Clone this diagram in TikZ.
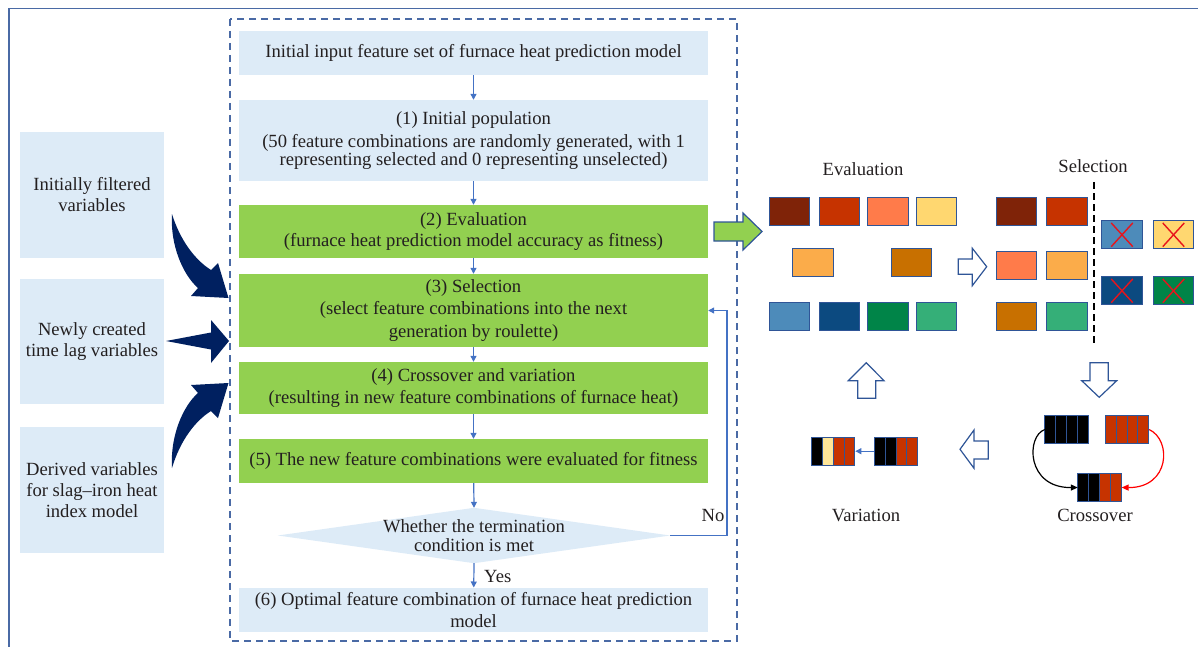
\documentclass[tikz,border=0pt]{standalone}
\usepackage{fontspec}
\setmainfont{Liberation Serif}
\usetikzlibrary{arrows.meta,calc}

\definecolor{lightbox}{HTML}{DDEBF7}
\definecolor{greenbox}{HTML}{92D050}
\definecolor{linkblue}{HTML}{4472C4}
\definecolor{frameblue}{HTML}{4A6AA5}
\definecolor{navy}{HTML}{002060}
\definecolor{ink}{HTML}{231F20}
\definecolor{edgeblue}{HTML}{2F5597}
\definecolor{gMaroon}{HTML}{7F2308}
\definecolor{gRust}{HTML}{C63300}
\definecolor{gCoral}{HTML}{FF7B4A}
\definecolor{gSand}{HTML}{FFD770}
\definecolor{gApricot}{HTML}{FBAC4A}
\definecolor{gOchre}{HTML}{C87000}
\definecolor{gSteel}{HTML}{4D8BBA}
\definecolor{gDeep}{HTML}{0C4A80}
\definecolor{gGreen}{HTML}{008448}
\definecolor{gMint}{HTML}{35AF78}
\definecolor{gPale}{HTML}{FFE699}
\definecolor{crossred}{HTML}{E8141C}

\newcommand\fs[1]{\fontsize{18.6}{#1}\selectfont}

\tikzset{
  flowbox/.style={rectangle, inner sep=0pt, minimum width=469pt, align=center, text=ink},
  bluebox/.style={flowbox, fill=lightbox},
  greenstep/.style={flowbox, fill=greenbox},
  sidebox/.style={rectangle, inner sep=0pt, fill=lightbox, minimum width=144pt,
    align=center, text=ink},
  conn/.style={draw=linkblue, line width=1.2pt, -{Triangle[width=6pt,length=6pt]}},
  tile/.style={rectangle, draw=edgeblue, line width=1pt, inner sep=0pt,
    minimum width=40.5pt, minimum height=27.7pt},
  strip/.style={rectangle, inner sep=0pt, minimum width=43.4pt, minimum height=28pt},
  cellline/.style={draw=edgeblue, line width=1pt},
  hollow/.style={draw=edgeblue, line width=1.2pt, fill=white, line join=miter},
  label/.style={text=ink, inner sep=0pt},
  crossmark/.style={draw=crossred, line width=1.4pt},
}

% a chromosome strip of four genes
\newcommand\genestrip[6]{%
  \node[strip] (#1) at (#2) {};
  \foreach \k/\c in {0/#3,1/#4,2/#5,3/#6}{%
    \draw[cellline, fill=\c] ($(#1.north west)+(\k*10.85,0)$) rectangle ++(10.85,28);
  }%
}

\begin{document}
\begin{tikzpicture}[x=1pt,y=-1pt, font=\fs{21}]
\useasboundingbox (0,0) rectangle (1198,647);

% outer frame
\draw[frameblue, line width=1.5pt] (1198,8.5) -- (9,8.5) -- (9,647);

% dashed frame round the flow chart
\draw[frameblue, line width=1.2pt, dash pattern=on 7pt off 5pt] (230,19) rectangle (737,641);

% flow chart
\node[bluebox, minimum height=44pt, font=\fs{22}] (b0) at (473.5,53)
  {Initial input feature set of furnace heat prediction model};
\node[bluebox, minimum height=81pt, font=\fs{17.7}] (b1) at (473.5,140.5)
  {(1) Initial population\\[5.5pt]
   (50 feature combinations are randomly generated, with 1\\
   representing selected and 0 representing unselected)};
\node[greenstep, minimum height=53pt, font=\fs{20.7}] (b2) at (473.5,231.5)
  {(2) Evaluation\\(furnace heat prediction model accuracy as fitness)};
\node[greenstep, minimum height=73pt, font=\fs{22.7}] (b3) at (473.5,310.5)
  {(3) Selection\\(select feature combinations into the next\\generation by roulette)};
\node[greenstep, minimum height=52pt, font=\fs{21.3}] (b4) at (473.5,388)
  {(4) Crossover and variation\\(resulting in new feature combinations of furnace heat)};
\node[greenstep, minimum height=44pt, font=\fs{22}] (b5) at (473.5,461)
  {(5) The new feature combinations were evaluated for fitness};

% decision diamond
\node[rectangle, inner sep=0pt, minimum width=392pt, minimum height=55pt] (dia) at (474,535.5) {};
\fill[lightbox] (dia.north) -- (dia.east) -- (dia.south) -- (dia.west) -- cycle;
\node[rectangle, inner sep=0pt, align=center, text=ink, font=\fs{18.3}] (diatext) at (dia.center)
  {Whether the termination\\condition is met};

\node[bluebox, minimum height=44pt, font=\fs{22.3}] (b6) at (473.5,609.7)
  {(6) Optimal feature combination of furnace heat prediction\\model};

\draw[conn] (b0) -- (b1);
\draw[conn] (b1) -- (b2);
\draw[conn] (b2) -- (b3);
\draw[conn] (b3) -- (b4);
\draw[conn] (b4) -- (b5);
\draw[conn] (b5) -- (dia.north);
\draw[conn] (dia.south) -- (b6);
\node[label, anchor=west] (yes) at (484,576.5) {Yes};
\draw[conn] (dia.east) -- (727,535.5) |- (b3.east);
\node[label] (no) at (713,515) {No};

% input variable groups
\node[sidebox, minimum height=126pt] (v1) at (92,195) {Initially filtered\\variables};
\node[sidebox, minimum height=125pt] (v2) at (92,341.5) {Newly created\\time lag variables};
\node[sidebox, minimum height=126pt] (v3) at (92,490) {Derived variables\\for slag--iron heat\\index model};

% wide arrows feeding the flow chart
\fill[navy] (172,214) .. controls (180,240) and (195,260) .. (211,270) -- (218,263)
  -- (228.5,298) -- (191,296) -- (198,288) .. controls (183,275) and (170,245) .. cycle;
\fill[navy] (166,341) -- (211,332.5) -- (211,320) -- (229,341) -- (211,363)
  -- (211,349.5) -- cycle;
\fill[navy] (172,468) .. controls (180,441) and (195,421) .. (211,411) -- (218,418)
  -- (228.5,383) -- (191,385) -- (198,393) .. controls (183,406) and (170,436) .. cycle;

% genetic algorithm cycle
\draw[edgeblue, line width=1.2pt, fill=greenbox] (714,222) -- (743,222) -- (743,213)
  -- (762,231.5) -- (743,250) -- (743,241) -- (714,241) -- cycle;

\node[label] (evl) at (863,169) {Evaluation};
\node[label] (sel) at (1093,166) {Selection};

\node[tile, fill=gMaroon]  (e1)  at (789.3,211.2) {};
\node[tile, fill=gRust]    (e2)  at (839.3,211.2) {};
\node[tile, fill=gCoral]   (e3)  at (887.8,211.2) {};
\node[tile, fill=gSand]    (e4)  at (936.3,211.2) {};
\node[tile, fill=gApricot] (e5)  at (813.2,262.7) {};
\node[tile, fill=gOchre]   (e6)  at (911.5,262.7) {};
\node[tile, fill=gSteel]   (e7)  at (789.3,316.2) {};
\node[tile, fill=gDeep]    (e8)  at (839.3,316.2) {};
\node[tile, fill=gGreen]   (e9)  at (887.8,316.2) {};
\node[tile, fill=gMint]    (e10) at (936.3,316.2) {};

\draw[hollow] (958.3,259) -- (972.3,259) -- (972.3,248.3) -- (986.7,266.7)
  -- (972.3,285.7) -- (972.3,274.3) -- (958.3,274.3) -- cycle;

\node[tile, fill=gMaroon]  (s1) at (1016.3,211.2) {};
\node[tile, fill=gRust]    (s2) at (1067,211.2) {};
\node[tile, fill=gCoral]   (s3) at (1016.3,265.3) {};
\node[tile, fill=gApricot] (s4) at (1067,265.3) {};
\node[tile, fill=gOchre]   (s5) at (1016.3,316.2) {};
\node[tile, fill=gMint]    (s6) at (1067,316.2) {};

\draw[black, line width=1.2pt, dash pattern=on 7pt off 4pt] (1094,182) -- (1094,345);

\foreach \n/\x/\y/\c in {r1/1122/234.8/gSteel, r2/1173.5/234.8/gSand,
                         r3/1122/290.8/gDeep, r4/1173.5/290.8/gGreen}{
  \node[tile, fill=\c] (\n) at (\x,\y) {};
  \draw[crossmark] ($(\n.north west)+(10,2.5)$) -- ($(\n.south east)+(-10,-2.5)$);
  \draw[crossmark] ($(\n.south west)+(10,-2.5)$) -- ($(\n.north east)+(-10,2.5)$);
}

\draw[hollow] (1090,362.7) -- (1108.3,362.7) -- (1108.3,380.7) -- (1116.7,380.7)
  -- (1099.2,397.3) -- (1081.7,380.7) -- (1090,380.7) -- cycle;

% crossover
\genestrip{pa}{1066.7,429.5}{black}{black}{black}{black}
\genestrip{pb}{1127.2,429.5}{gRust}{gRust}{gRust}{gRust}
\genestrip{kid}{1099.7,487.5}{black}{black}{gRust}{gRust}
\draw[black, line width=1.2pt, -{Triangle[width=6pt,length=7pt]}]
  (pa.west) .. controls (1026,436) and (1026,488) .. (kid.west);
\draw[red, line width=1.2pt, -{Triangle[width=6pt,length=7pt]}]
  (pb.east) .. controls (1172,440) and (1170,488) .. (kid.east);
\node[label] (crl) at (1095,515) {Crossover};

\draw[hollow] (988.3,441) -- (974,441) -- (974,430) -- (960,449.3) -- (974,468.3)
  -- (974,459) -- (988.3,459) -- cycle;

% variation
\genestrip{orig}{896.2,451.2}{black}{black}{gRust}{gRust}
\genestrip{mut}{833.4,451.2}{black}{gPale}{gRust}{gRust}
\draw[linkblue, line width=1.2pt, -{Triangle[width=6pt,length=6pt]}] (orig.west) -- (mut.east);
\node[label] (vrl) at (866,515) {Variation};

\draw[hollow] (857.7,398.3) -- (875.7,398.3) -- (875.7,380.7) -- (884,380.7)
  -- (866.2,362.7) -- (848.3,380.7) -- (857.7,380.7) -- cycle;
\end{tikzpicture}
\end{document}
